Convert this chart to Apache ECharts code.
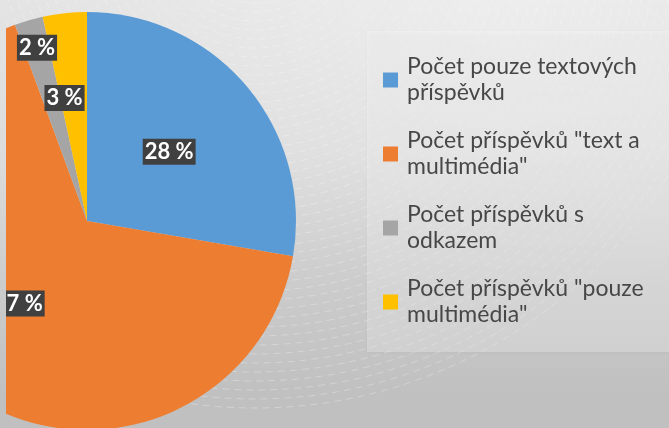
<!DOCTYPE html>
<html>
<head>
<meta charset="utf-8">
<script src="https://cdn.jsdelivr.net/npm/echarts@6/dist/echarts.min.js"></script>
<style>
  html, body { margin: 0; padding: 0; }
  body {
    width: 669px; height: 428px; overflow: hidden; position: relative;
    background:
      radial-gradient(ellipse 700px 420px at 75% 0%, rgba(255,255,255,0.35), rgba(255,255,255,0) 70%),
      linear-gradient(to bottom, #e4e4e4 0%, #dcdcdc 35%, #cacaca 70%, #c0c0c0 92%, #c0c0c0 100%);
  }
  #chart { position: absolute; left: 6px; top: 0; width: 663px; height: 428px; }
</style>
</head>
<body>
<div id="chart"></div>
<script>
// data
const categories = [
  'Počet pouze textových\npříspěvků',
  'Počet příspěvků "text a\nmultimédia"',
  'Počet příspěvků s\nodkazem',
  'Počet příspěvků "pouze\nmultimédia"',
];
const values = [27.7, 66.7, 2.2, 3.4];
const colors = ['#5b9bd5', '#ed7d31', '#a5a5a5', '#ffc000'];

// label nudges (Excel "best fit" look) by slice index
const labelShift = { 2: [-20, -70], 3: [-11, -16] };

// faint background arcs (slide texture)
const arcs = [];
for (let r = 60; r <= 488; r += 9) {
  arcs.push({
    type: 'circle',
    silent: true,
    z: -1,
    shape: { cx: 249, cy: -75, r },
    style: { fill: null, stroke: 'rgba(255,255,255,0.28)', lineWidth: 1, lineDash: [7, 5] },
  });
}

const chart = echarts.init(document.getElementById('chart'), null, { renderer: 'canvas' });

chart.setOption({
  animation: false,
  backgroundColor: 'transparent',
  color: colors,
  graphic: [
    ...arcs,
    // legend box
    {
      type: 'rect',
      z: 0,
      silent: true,
      shape: { x: 361, y: 31, width: 310, height: 321 },
      style: { fill: 'rgba(255,255,255,0.28)', shadowBlur: 3, shadowColor: 'rgba(0,0,0,0.12)', shadowOffsetY: 1 },
    },
  ],
  legend: {
    orient: 'vertical',
    left: 377,
    top: 54,
    padding: 0,
    icon: 'rect',
    itemWidth: 15,
    itemHeight: 15,
    itemGap: 22,
    selectedMode: false,
    data: categories,
    textStyle: {
      fontFamily: 'Lato',
      fontSize: 23,
      lineHeight: 26,
      color: '#474747',
      padding: [0, 0, 0, 4],
    },
  },
  series: [
    {
      type: 'pie',
      center: [81, 221],
      radius: 209,
      startAngle: 90,
      clockwise: true,
      data: categories.map((name, i) => ({ name, value: values[i] })),
      label: {
        show: true,
        position: 'inside',
        formatter: (p) => Math.round(p.percent) + ' %',
        color: '#fff',
        fontFamily: 'Lato',
        fontSize: 22,
        fontWeight: 'bold',
        backgroundColor: '#404040',
        padding: [3, 2, 1, 2],
      },
      labelLayout: (params) => {
        const s = labelShift[params.dataIndex];
        return s ? { dx: s[0], dy: s[1] } : {};
      },
      labelLine: { show: false },
      emphasis: { disabled: true },
    },
  ],
});
</script>
</body>
</html>
